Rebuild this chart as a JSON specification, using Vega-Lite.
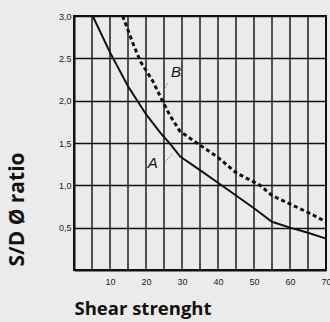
{
  "$schema": "https://vega.github.io/schema/vega-lite/v6.json",
  "width": 252,
  "height": 254,
  "autosize": {"type": "none"},
  "padding": {"left": 74, "top": 16, "right": 4, "bottom": 52},
  "background": "#ebebeb",
  "config": {
    "view": {"stroke": "#111", "strokeWidth": 2},
    "axis": {"labelFont": "Liberation Sans", "labelFontSize": 9, "labelColor": "#222", "titleFont": "Open Sans", "titleFontWeight": "bold", "titleColor": "#111", "gridColor": "#111", "gridOpacity": 1, "gridWidth": 1.4, "domainColor": "#111", "domainWidth": 2, "ticks": false}
  },
  "datasets": {
    "curves": [
      {"curve": "A", "shear": 5.2, "ratio": 3.0},
      {"curve": "A", "shear": 10, "ratio": 2.57},
      {"curve": "A", "shear": 15, "ratio": 2.17},
      {"curve": "A", "shear": 20, "ratio": 1.84},
      {"curve": "A", "shear": 24, "ratio": 1.62},
      {"curve": "A", "shear": 26.7, "ratio": 1.49},
      {"curve": "A", "shear": 29.5, "ratio": 1.34},
      {"curve": "A", "shear": 35, "ratio": 1.18},
      {"curve": "A", "shear": 40, "ratio": 1.03},
      {"curve": "A", "shear": 45, "ratio": 0.88},
      {"curve": "A", "shear": 50, "ratio": 0.73},
      {"curve": "A", "shear": 55, "ratio": 0.57},
      {"curve": "A", "shear": 60, "ratio": 0.5},
      {"curve": "A", "shear": 65, "ratio": 0.44},
      {"curve": "A", "shear": 70, "ratio": 0.37},
      {"curve": "B", "shear": 13.5, "ratio": 3.0},
      {"curve": "B", "shear": 16.9, "ratio": 2.62},
      {"curve": "B", "shear": 18.5, "ratio": 2.46},
      {"curve": "B", "shear": 21.9, "ratio": 2.23},
      {"curve": "B", "shear": 24.3, "ratio": 2.02},
      {"curve": "B", "shear": 26.6, "ratio": 1.83},
      {"curve": "B", "shear": 29.4, "ratio": 1.64},
      {"curve": "B", "shear": 34.5, "ratio": 1.49},
      {"curve": "B", "shear": 40, "ratio": 1.33},
      {"curve": "B", "shear": 45, "ratio": 1.15},
      {"curve": "B", "shear": 51.7, "ratio": 1.0},
      {"curve": "B", "shear": 55, "ratio": 0.88},
      {"curve": "B", "shear": 60, "ratio": 0.78},
      {"curve": "B", "shear": 65, "ratio": 0.68},
      {"curve": "B", "shear": 70, "ratio": 0.57}
    ],
    "labels": [
      {"curve": "A", "shear": 21.9, "ratio": 1.26},
      {"curve": "B", "shear": 28.3, "ratio": 2.34}
    ],
    "leaders": [
      {"curve": "A", "shear": 25.3, "ratio": 1.27},
      {"curve": "A", "shear": 27.5, "ratio": 1.38},
      {"curve": "B", "shear": 24.7, "ratio": 2.09},
      {"curve": "B", "shear": 26.1, "ratio": 2.22}
    ]
  },
  "layer": [
    {
      "data": {"name": "curves"},
      "transform": [{"filter": "datum.curve === 'A'"}],
      "mark": {"type": "line", "color": "#111", "strokeWidth": 2},
      "encoding": {
        "x": {"field": "shear", "type": "quantitative", "scale": {"domain": [0, 70], "nice": false},
          "axis": {"title": "Shear strenght", "titleFontSize": 18.5, "titleAnchor": "start", "titleAlign": "left", "titleBaseline": "alphabetic", "titleX": 0, "titleY": 44, "values": [10, 20, 30, 40, 50, 60, 70], "labelPadding": 7, "labelFlush": false, "grid": false}},
        "y": {"field": "ratio", "type": "quantitative", "scale": {"domain": [0, 3], "nice": false},
          "axis": {"title": "S/D Ø ratio", "titleFontSize": 21, "titleX": -51, "titleY": 193, "titleAlign": "center", "titleBaseline": "alphabetic", "values": [0.5, 1, 1.5, 2, 2.5, 3], "labelExpr": "datum.value == 2.5 ? '2.5' : replace(format(datum.value, '.1f'), '.', ',')", "labelPadding": 3, "grid": true}}
      }
    },
    {
      "data": {"name": "curves"},
      "transform": [{"filter": "datum.curve === 'B'"}],
      "mark": {"type": "line", "color": "#111", "strokeWidth": 3, "strokeDash": [4, 3]},
      "encoding": {
        "x": {"field": "shear", "type": "quantitative"},
        "y": {"field": "ratio", "type": "quantitative"}
      }
    },
    {
      "data": {"values": [{"v": 5}, {"v": 10}, {"v": 15}, {"v": 20}, {"v": 25}, {"v": 30}, {"v": 35}, {"v": 40}, {"v": 45}, {"v": 50}, {"v": 55}, {"v": 60}, {"v": 65}, {"v": 70}]},
      "mark": {"type": "rule", "color": "#111", "strokeWidth": 1.4},
      "encoding": {"x": {"field": "v", "type": "quantitative"}}
    },
    {
      "data": {"name": "leaders"},
      "mark": {"type": "line", "color": "#777", "strokeWidth": 1, "strokeDash": [1.5, 1.5]},
      "encoding": {
        "x": {"field": "shear", "type": "quantitative"},
        "y": {"field": "ratio", "type": "quantitative"},
        "detail": {"field": "curve"}
      }
    },
    {
      "data": {"name": "labels"},
      "mark": {"type": "text", "font": "Liberation Sans", "fontSize": 15, "fontStyle": "italic", "color": "#111"},
      "encoding": {
        "x": {"field": "shear", "type": "quantitative"},
        "y": {"field": "ratio", "type": "quantitative"},
        "text": {"field": "curve"}
      }
    }
  ]
}
